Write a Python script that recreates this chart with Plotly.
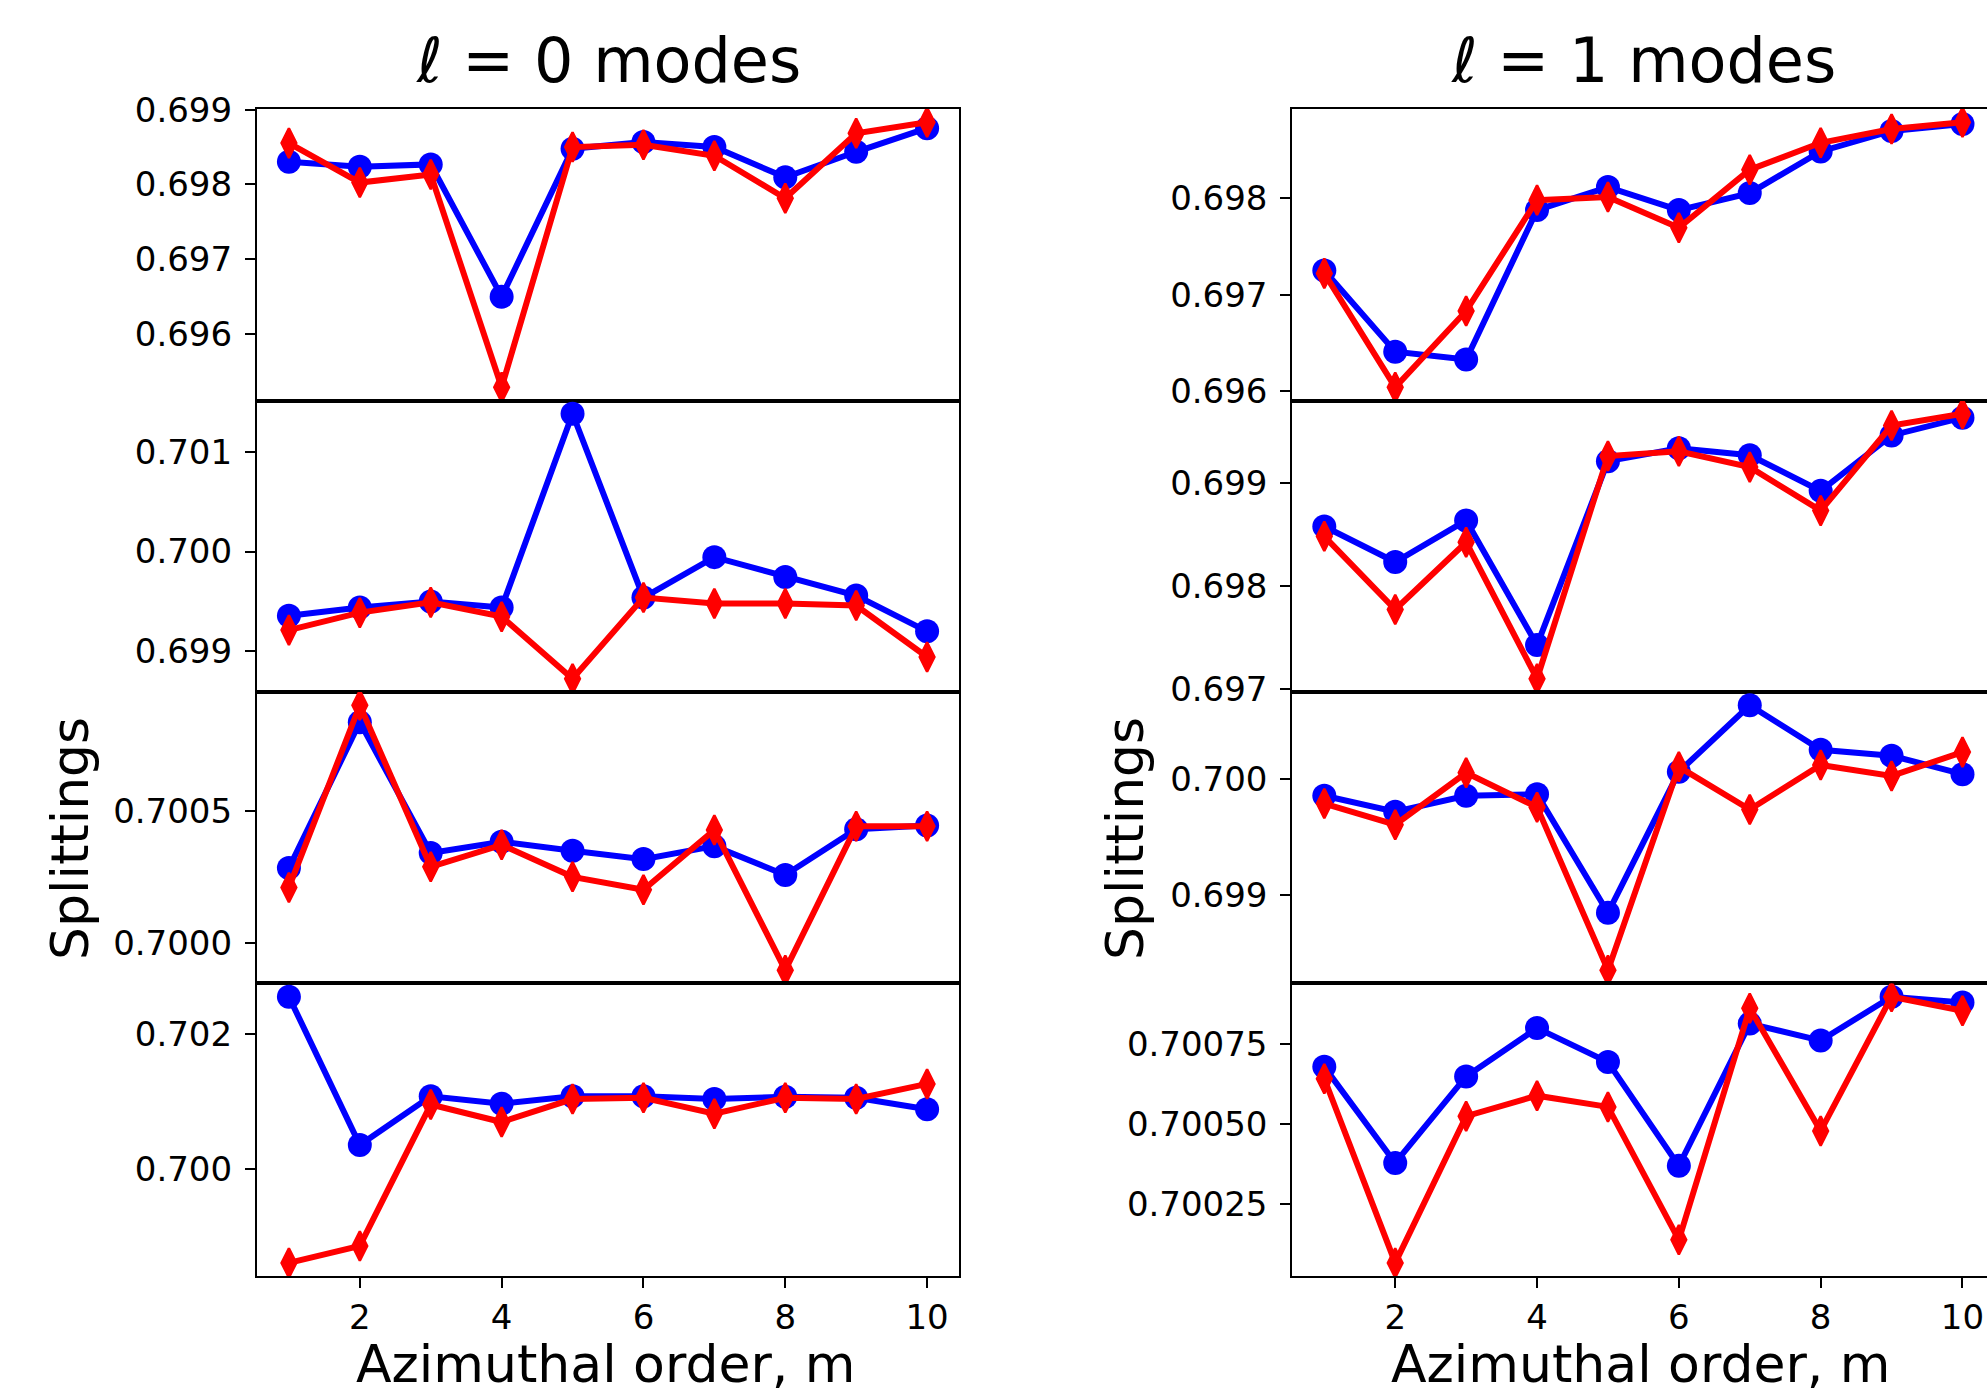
import plotly.graph_objects as go

# ---------------- data ----------------
m = [1, 2, 3, 4, 5, 6, 7, 8, 9, 10]

# l = 0 modes, panels top -> bottom
l0_p1_blue = [0.698305, 0.698237, 0.698268, 0.696500, 0.698479, 0.698568, 0.698500, 0.698095, 0.698437, 0.698753]
l0_p1_red = [0.698553, 0.698026, 0.698132, 0.695289, 0.698500, 0.698532, 0.698384, 0.697816, 0.698684, 0.698832]
l0_p2_blue = [0.699356, 0.699439, 0.699499, 0.699439, 0.701380, 0.699539, 0.699944, 0.699746, 0.699559, 0.699201]
l0_p2_red = [0.699213, 0.699388, 0.699491, 0.699348, 0.698726, 0.699539, 0.699479, 0.699479, 0.699459, 0.698944]
l0_p3_blue = [0.700285, 0.700837, 0.700342, 0.700385, 0.700351, 0.700319, 0.700368, 0.700259, 0.700432, 0.700446]
l0_p3_red = [0.700212, 0.700901, 0.700290, 0.700373, 0.700252, 0.700203, 0.700429, 0.699899, 0.700443, 0.700443]
l0_p4_blue = [0.702560, 0.700355, 0.701078, 0.700969, 0.701078, 0.701078, 0.701038, 0.701072, 0.701058, 0.700887]
l0_p4_red = [0.698601, 0.698853, 0.700956, 0.700696, 0.701038, 0.701058, 0.700819, 0.701058, 0.701038, 0.701263]

# l = 1 modes, panels top -> bottom
l1_p1_blue = [0.697250, 0.696410, 0.696328, 0.697877, 0.698115, 0.697877, 0.698053, 0.698484, 0.698697, 0.698770]
l1_p1_red = [0.697221, 0.696041, 0.696832, 0.697980, 0.698012, 0.697693, 0.698295, 0.698574, 0.698717, 0.698787]
l1_p2_blue = [0.698577, 0.698231, 0.698635, 0.697423, 0.699212, 0.699338, 0.699269, 0.698923, 0.699462, 0.699635]
l1_p2_red = [0.698481, 0.697769, 0.698423, 0.697096, 0.699262, 0.699308, 0.699154, 0.698731, 0.699558, 0.699673]
l1_p3_blue = [0.699854, 0.699717, 0.699854, 0.699866, 0.698850, 0.700059, 0.700630, 0.700248, 0.700197, 0.700039]
l1_p3_red = [0.699787, 0.699606, 0.700051, 0.699756, 0.698358, 0.700102, 0.699736, 0.700118, 0.700024, 0.700228]
l1_p4_blue = [0.700678, 0.700378, 0.700648, 0.700799, 0.700693, 0.700369, 0.700813, 0.700760, 0.700897, 0.700879]
l1_p4_red = [0.700641, 0.700066, 0.700524, 0.700588, 0.700553, 0.700138, 0.700861, 0.700478, 0.700897, 0.700853]

# y tick labels per panel
l0_p1_ticks = ["0.696", "0.697", "0.698", "0.699"]
l0_p2_ticks = ["0.699", "0.700", "0.701"]
l0_p3_ticks = ["0.7000", "0.7005"]
l0_p4_ticks = ["0.700", "0.702"]
l1_p1_ticks = ["0.696", "0.697", "0.698"]
l1_p2_ticks = ["0.697", "0.698", "0.699"]
l1_p3_ticks = ["0.699", "0.700"]
l1_p4_ticks = ["0.70025", "0.70050", "0.70075"]
x_ticks = [2, 4, 6, 8, 10]

titles = ["\u2113 = 0 modes", "\u2113 = 1 modes"]
x_label = "Azimuthal order, m"
y_label = "Splittings"

# ---------------- figure ----------------
W, H = 1987, 1398
FONT = "DejaVu Sans"
BLUE = "#0000ff"
RED = "#ff0000"

panels = [
    (0, 0, l0_p1_blue, l0_p1_red, l0_p1_ticks),
    (0, 1, l0_p2_blue, l0_p2_red, l0_p2_ticks),
    (0, 2, l0_p3_blue, l0_p3_red, l0_p3_ticks),
    (0, 3, l0_p4_blue, l0_p4_red, l0_p4_ticks),
    (1, 0, l1_p1_blue, l1_p1_red, l1_p1_ticks),
    (1, 1, l1_p2_blue, l1_p2_red, l1_p2_ticks),
    (1, 2, l1_p3_blue, l1_p3_red, l1_p3_ticks),
    (1, 3, l1_p4_blue, l1_p4_red, l1_p4_ticks),
]

# pixel layout (full-size reference)
col_x = [(257, 959), (1292.4, W)]
px_per_unit = (959 - 257) / 9.9
col_xrange = [[0.55, 10.45], [0.55, 0.55 + (W - 1292.4) / px_per_unit]]
row_y = [109, 400.5, 692, 983.4, 1276.2]

fig = go.Figure()
layout = dict(
    width=W, height=H,
    margin=dict(l=0, r=0, t=0, b=0, autoexpand=False),
    plot_bgcolor="white", paper_bgcolor="white",
    showlegend=False,
    font=dict(family=FONT, color="black", size=34),
)

for i, (col, row, blue, red, ticks) in enumerate(panels):
    k = i + 1
    xa = "x" if k == 1 else f"x{k}"
    ya = "y" if k == 1 else f"y{k}"
    fig.add_trace(go.Scatter(
        x=m, y=blue, xaxis=xa, yaxis=ya, mode="lines+markers",
        line=dict(color=BLUE, width=6),
        marker=dict(symbol="circle", size=24, color=BLUE),
        cliponaxis=True,
    ))
    fig.add_trace(go.Scatter(
        x=m, y=red, xaxis=xa, yaxis=ya, mode="lines+markers",
        line=dict(color=RED, width=6),
        marker=dict(symbol="diamond-tall", size=21, color=RED, line=dict(color=RED, width=2.5)),
        cliponaxis=True,
    ))
    lo = min(min(blue), min(red))
    hi = max(max(blue), max(red))
    pad = 0.05 * (hi - lo)
    x0, x1 = col_x[col]
    y0, y1 = row_y[row], row_y[row + 1]
    bottom = row == 3
    xkey = "xaxis" if k == 1 else f"xaxis{k}"
    ykey = "yaxis" if k == 1 else f"yaxis{k}"
    layout[xkey] = dict(
        domain=[x0 / W, min(1.0, x1 / W)],
        range=col_xrange[col],
        anchor=ya,
        automargin=False,
        showgrid=False, zeroline=False,
        showline=True, linecolor="black", linewidth=2.2, mirror=True,
        tickvals=x_ticks if bottom else [],
        ticks="outside" if bottom else "",
        ticklen=10, tickwidth=2, tickcolor="black",
        showticklabels=bottom,
        tickfont=dict(family=FONT, size=34, color="black"),
    )
    layout[ykey] = dict(
        domain=[1 - y1 / H, 1 - y0 / H],
        range=[lo - pad, hi + pad],
        anchor=xa,
        automargin=False,
        showgrid=False, zeroline=False,
        showline=True, linecolor="black", linewidth=2.2,
        mirror=(col == 0),
        tickvals=[float(t) for t in ticks],
        ticktext=ticks,
        ticks="outside", ticklen=10, tickwidth=2, tickcolor="black",
        tickfont=dict(family=FONT, size=34, color="black"),
        ticklabelstandoff=6,
    )

annotations = []
for col in range(2):
    x0 = col_x[col][0]
    cx = x0 + 9.9 * px_per_unit / 2
    annotations.append(dict(
        text=titles[col], x=cx / W, y=1 - 61 / H, xref="paper", yref="paper",
        xanchor="center", yanchor="middle", showarrow=False,
        font=dict(family=FONT, size=62, color="black"),
    ))
    annotations.append(dict(
        text=x_label, x=(cx - 3) / W, y=1 - 1364 / H, xref="paper", yref="paper",
        xanchor="center", yanchor="middle", showarrow=False, borderpad=0,
        font=dict(family=FONT, size=52, color="black"),
    ))
label_x = [70, 1125]
for col in range(2):
    annotations.append(dict(
        text=y_label, x=label_x[col] / W, y=1 - 839 / H, xref="paper", yref="paper",
        xanchor="center", yanchor="middle", showarrow=False, textangle=-90,
        font=dict(family=FONT, size=52, color="black"),
    ))
layout["annotations"] = annotations

fig.update_layout(**layout)
fig.write_html("out.html")
